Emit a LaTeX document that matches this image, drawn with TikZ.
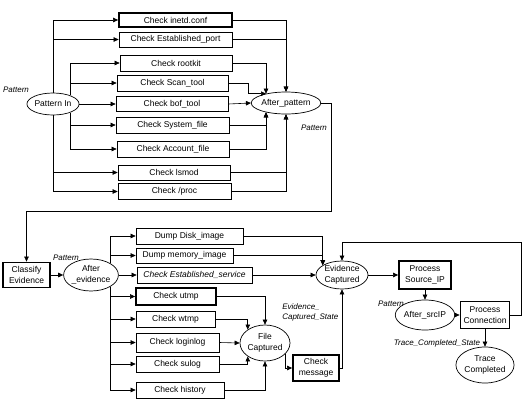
\documentclass[tikz,border=0pt]{standalone}
\usepackage{fontspec}
\setmainfont{Liberation Sans}
\usetikzlibrary{arrows.meta, shapes.geometric}

\begin{document}
\begin{tikzpicture}[
  x = 1pt,
  y = -1pt,
  check/.style = {
    shape = rectangle,
    draw = black,
    line width = 0.7pt,
    minimum width = 112pt,
    minimum height = 15pt,
    inner sep = 0pt,
    align = center,
    font = \fontsize{8.5}{10.5}\selectfont
  },
  heavy/.style = {
    check,
    line width = 1.8pt
  },
  state/.style = {
    shape = ellipse,
    draw = black,
    line width = 0.7pt,
    inner sep = 0pt,
    align = center,
    font = \fontsize{8.5}{10.5}\selectfont
  },
  tag/.style = {
    inner sep = 0pt,
    font = \fontsize{8}{10}\selectfont\itshape
  },
  every path/.style = {
    line width = 0.6pt
  },
  > = {Triangle[length = 5pt, width = 4.5pt]}
]
  \useasboundingbox (0, 0) rectangle (522, 399);

  \node[state, minimum width = 46pt, minimum height = 22pt] (pin) at (53, 104) {Pattern In};
  \node[tag] (pinlbl) at (16, 90) {Pattern};

  \node[heavy, minimum width = 113pt, minimum height = 14pt] (inetd) at (175.5, 20) {Check inetd.conf};
  \node[check, minimum width = 113pt] (estport) at (175.5, 39.5) {Check Established\_port};
  \node[check, minimum height = 16pt] (rootkit) at (176, 63) {Check rootkit};
  \node[check, minimum width = 111pt, minimum height = 16pt] (scantool) at (172.5, 83) {Check Scan\_tool};
  \node[check] (boftool) at (172, 104) {Check bof\_tool};
  \node[check, minimum width = 113pt, minimum height = 16pt] (sysfile) at (172.5, 125) {Check System\_file};
  \node[check, minimum height = 16pt] (accfile) at (173, 149) {Check Account\_file};
  \node[check] (lsmod) at (174, 172.5) {Check lsmod};
  \node[check, minimum width = 113pt, minimum height = 16pt] (proc) at (174.5, 191.5) {Check /proc};

  \node[state, minimum width = 54pt, minimum height = 22pt] (apat) at (286, 103) {After\_pattern};
  \node[tag] (apatlbl) at (314, 128) {Pattern};

  \draw[->] (pin.north) |- (inetd.west);
  \draw[->] (pin.north) |- (estport.west);
  \draw[->] (pin.26) |- (rootkit.west);
  \draw[->] (pin.26) |- (scantool.west);
  \draw[->] (pin.east) -- (boftool.west);
  \draw[->] (pin.-26) |- (sysfile.west);
  \draw[->] (pin.-26) |- (accfile.west);
  \draw[->] (pin.south) |- (lsmod.west);
  \draw[->] (pin.south) |- (proc.west);

  \draw[->] (inetd.east) -| (apat.north);
  \draw[->] (estport.east) -| (apat.north);
  \draw[->] (rootkit.east) -| (apat.155);
  \draw[->] (scantool.east) -- ++(20, 0) |- (apat.155);
  \draw[->] (boftool.east) -- (apat.west);
  \draw[->] (sysfile.east) -| (apat.-155);
  \draw[->] (accfile.east) -| (apat.-155);
  \draw[->] (lsmod.east) -| (apat.south);
  \draw[->] (proc.east) -| (apat.south);

  \node[heavy, minimum width = 47pt, minimum height = 25pt] (classify) at (26.5, 275) {Classify\\Evidence};
  \coordinate (bend) at (331, 211);
  \draw[->] (apat.east) -| (bend) -| (classify.north);

  \node[state, minimum width = 50pt, minimum height = 32pt] (aev) at (91, 275) {After\\\_evidence};
  \node[tag] (aevlbl) at (66, 258) {Pattern};
  \draw[->] (classify.east) -- (aev.west);

  \node[check, minimum width = 107pt, minimum height = 16pt] (disk) at (189.5, 236) {Dump Disk\_image};
  \node[check, minimum width = 97pt] (memory) at (184.5, 255.5) {Dump memory\_image};
  \node[check, minimum width = 115pt, minimum height = 16pt, font = \fontsize{8.5}{10.5}\selectfont\itshape] (service) at (194.5, 275) {Check Established\_service};
  \node[heavy, minimum width = 80pt, minimum height = 17pt] (utmp) at (176, 296.5) {Check utmp};
  \node[check, minimum width = 79pt, minimum height = 16pt] (wtmp) at (175.5, 319) {Check wtmp};
  \node[check, minimum width = 83pt, minimum height = 19pt] (loginlog) at (177.5, 342.5) {Check loginlog};
  \node[check, minimum width = 83pt, minimum height = 16pt] (sulog) at (177.5, 364) {Check sulog};
  \node[check, minimum width = 88pt, minimum height = 16pt] (history) at (180, 390) {Check history};

  \draw[->] (aev.32) |- (disk.west);
  \draw[->] (aev.32) |- (memory.west);
  \draw[->] (aev.east) -- (service.west);
  \draw[->] (aev.-32) |- (utmp.west);
  \draw[->] (aev.-32) |- (wtmp.west);
  \draw[->] (aev.-32) |- (loginlog.west);
  \draw[->] (aev.-32) |- (sulog.west);
  \draw[->] (aev.-32) |- (history.west);

  \node[state, minimum width = 50pt, minimum height = 36pt] (fcap) at (265, 343) {File\\Captured};
  \draw[->] (utmp.east) -| (fcap.north);
  \draw[->] (wtmp.east) -| (fcap.142);
  \draw[->] (loginlog.east) -- (fcap.west);
  \draw[->] (sulog.east) -| (fcap.-142);
  \draw[->] (history.east) -| (fcap.south);

  \node[heavy, minimum width = 46pt, minimum height = 26pt] (message) at (316, 368) {Check\\message};
  \draw[->] (fcap.-30) |- (message.west);

  \node[state, minimum width = 52pt, minimum height = 28pt] (ecap) at (342, 275) {Evidence\\Captured};
  \node[tag, anchor = west, align = left] (ecaplbl) at (282, 312) {Evidence\_\\Captured\_State};
  \draw[->] (message.east) -| (ecap.south);
  \draw[->] (disk.east) -| (ecap.153);
  \draw[->] (memory.east) -| (ecap.153);
  \draw[->] (service.east) -- (ecap.west);

  \node[heavy, minimum width = 52pt, minimum height = 28pt] (psrc) at (425, 275) {Process\\Source\_IP};
  \node[state, minimum width = 53pt, minimum height = 30pt] (asrc) at (425, 315) {After\_srcIP};
  \node[tag] (asrclbl) at (391, 304) {Pattern};
  \node[heavy, minimum width = 49pt, minimum height = 27pt] (conn) at (485, 315) {Process\\Connection};
  \node[state, minimum width = 53pt, minimum height = 36pt] (tcomp) at (485, 365) {Trace\\Completed};
  \node[tag] (tcomplbl) at (437, 343) {Trace\_Completed\_State};

  \draw[->] (ecap.east) -- (psrc.west);
  \draw[->] (psrc.south) -- (asrc.north);
  \draw[->] (asrc.east) -- (conn.west);
  \draw[->] (conn.south) -- (tcomp.north);
  \coordinate (edge) at (521.5, 242);
  \draw[->] (conn.east) -| (edge) -| (ecap.north);
\end{tikzpicture}
\end{document}
